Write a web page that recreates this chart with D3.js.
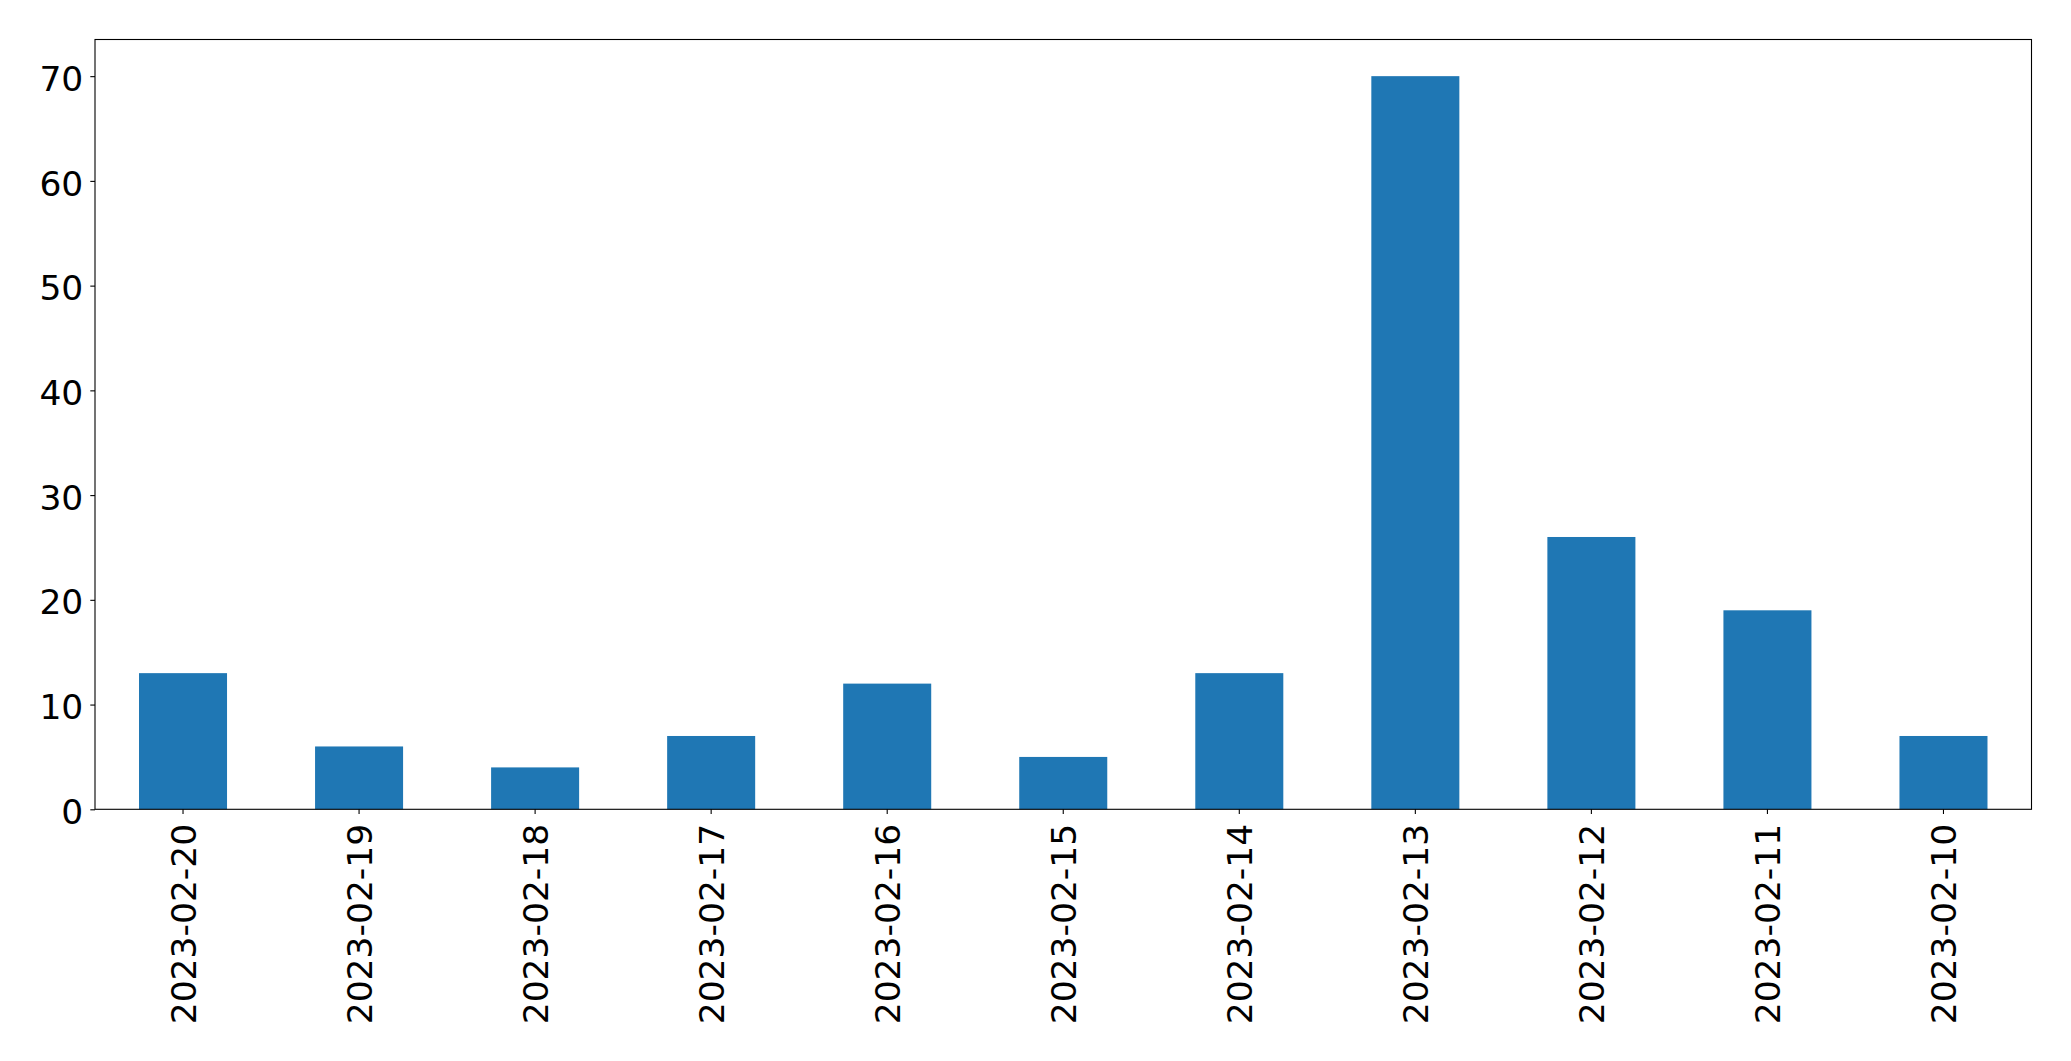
<!DOCTYPE html>
<html>
<head>
<meta charset="utf-8">
<script src="https://cdn.jsdelivr.net/npm/d3@7"></script>
<style>
  html, body { margin: 0; padding: 0; background: #fff; }
  svg { display: block; }
  text { font-family: "DejaVu Sans", sans-serif; fill: #000; }
</style>
</head>
<body>
<svg id="chart" width="2071" height="1061"></svg>
<script>
const categories = ["2023-02-20","2023-02-19","2023-02-18","2023-02-17","2023-02-16","2023-02-15","2023-02-14","2023-02-13","2023-02-12","2023-02-11","2023-02-10"];
const values = [13, 6, 4, 7, 12, 5, 13, 70, 26, 19, 7];
const yTicks = [0, 10, 20, 30, 40, 50, 60, 70];

const FS = 34.5;
const m = { left: 95, right: 2031.5, top: 39.5, bottom: 809.3 };
const svg = d3.select("#chart");

const x = d3.scaleBand().domain(categories).range([m.left, m.right]).paddingInner(0.5).paddingOuter(0.25);
const y = d3.scaleLinear().domain([0, 73.5]).range([m.bottom, m.top]);

// bars
svg.append("g").selectAll("rect").data(values).join("rect")
  .attr("x", (d, i) => x(categories[i]))
  .attr("width", x.bandwidth())
  .attr("y", d => y(d))
  .attr("height", d => y(0) - y(d))
  .attr("fill", "#1f77b4");

// y axis
const yAxis = d3.axisLeft(y).tickValues(yTicks).tickSize(4.7).tickPadding(7).tickFormat(d3.format("d"));
const gy = svg.append("g").attr("transform", `translate(${m.left},0)`).call(yAxis);
gy.select(".domain").remove();
gy.selectAll(".tick line").attr("stroke", "#000").attr("stroke-width", 1.1);
gy.selectAll(".tick text").attr("font-size", FS).attr("dy", "0.41em")
  .style("font-family", '"DejaVu Sans", sans-serif');

// x axis
const xAxis = d3.axisBottom(x).tickSize(4.7).tickPadding(0);
const gx = svg.append("g").attr("transform", `translate(0,${m.bottom})`).call(xAxis);
gx.select(".domain").remove();
gx.selectAll(".tick line").attr("stroke", "#000").attr("stroke-width", 1.1);
gx.selectAll(".tick text")
  .attr("font-size", FS)
  .style("font-family", '"DejaVu Sans", sans-serif')
  .attr("text-anchor", "end")
  .attr("y", 0).attr("x", 0)
  .attr("transform", "translate(0,14.5) rotate(-90)")
  .attr("dy", "0.37em");

// frame
svg.append("rect")
  .attr("x", m.left).attr("y", m.top)
  .attr("width", m.right - m.left).attr("height", m.bottom - m.top)
  .attr("fill", "none").attr("stroke", "#000").attr("stroke-width", 1.1);
</script>
</body>
</html>
